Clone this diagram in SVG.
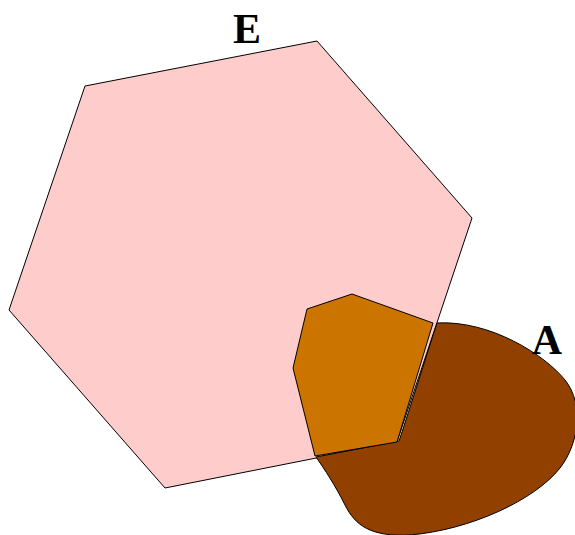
<svg xmlns="http://www.w3.org/2000/svg" width="575" height="535" viewBox="0 0 575 535">
<style>
.s{stroke:#000;stroke-width:1;stroke-linejoin:miter}
.lbl{font-family:"Liberation Serif","Times New Roman",serif;font-weight:bold;font-size:42px;fill:#000}
</style>
<rect width="575" height="535" fill="#fff"/>
<g id="E">
<polygon class="s" fill="#FFCCCC" points="85,86 317,41 472,218 397,442 165,488 9,310"/>
<text class="lbl" x="247" y="43" text-anchor="middle">E</text>
</g>
<g id="A">
<path class="s" fill="#924000" d="M 437,323 C 490,320 545,355 565,380 C 585,405 578,445 560,468 C 535,500 470,530 410,535 C 370,537 355,525 345,505 C 335,485 325,470 316,457 L 399,441 C 411,405 425,360 437,323 Z"/>
<text class="lbl" x="547" y="354" text-anchor="middle">A</text>
</g>
<g id="AE">
<polygon class="s" fill="#CC7400" points="307,309 352,294 433,323 397,442 315,456 293,368"/>
</g>
<g id="connectors"/>
</svg>
